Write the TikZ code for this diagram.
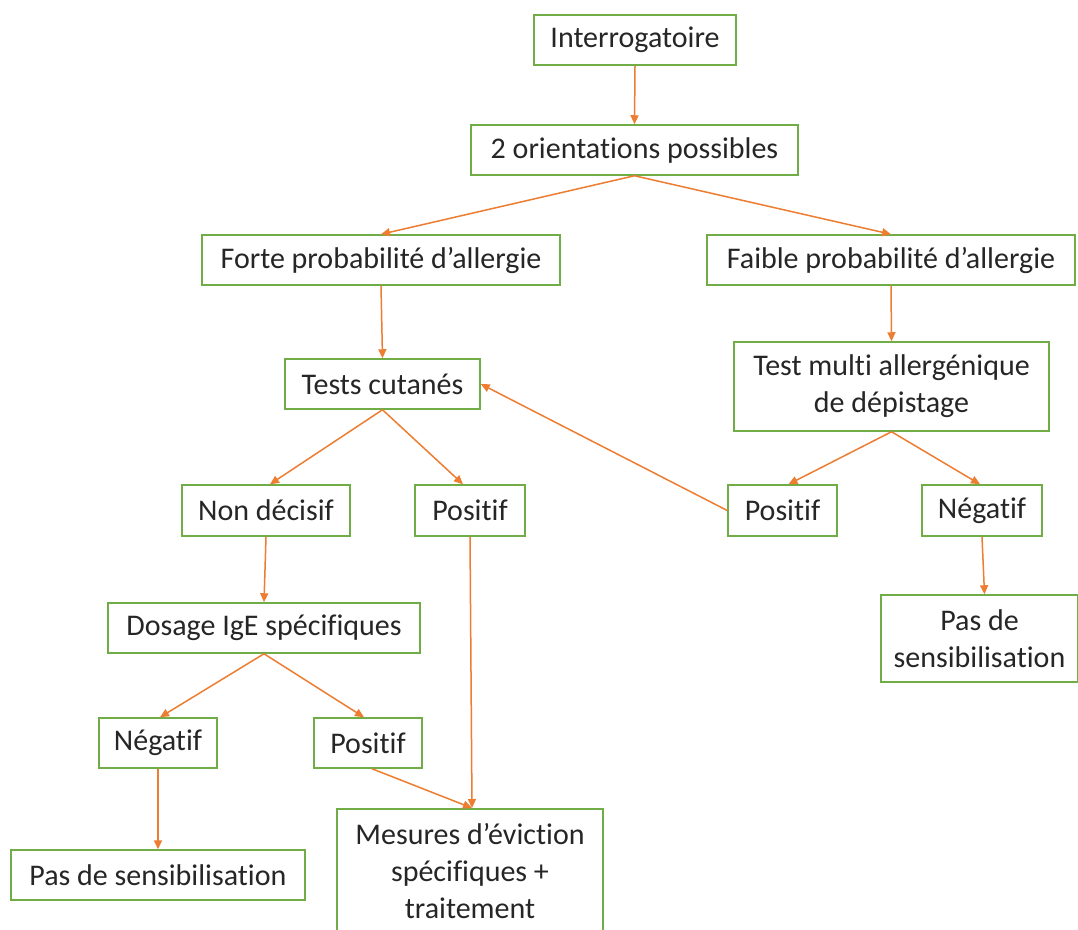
\documentclass[tikz,border=0pt]{standalone}
\usepackage{fontspec}
\setmainfont{Carlito}[RawFeature={-liga;-clig;-calt;-dlig}]
\usetikzlibrary{arrows.meta}
\definecolor{boxgreen}{HTML}{70AD47}
\definecolor{arrorange}{HTML}{ED7D31}
\tikzset{
  box/.style={draw=boxgreen, line width=1.5pt, fill=white, inner sep=0pt, align=center,
    font=\fontsize{30}{37}\selectfont, text=black!85},
  link/.style={draw=arrorange, line width=1.5pt, -{Triangle[length=9pt,width=8pt]}},
}
\begin{document}
\begin{tikzpicture}[x=1pt,y=-1pt]
\useasboundingbox[fill=white] (0,0) rectangle (1078,929);
\node[box, minimum width=202pt, minimum height=50pt] (int) at (635,40) {Interrogatoire};
\node[box, minimum width=327pt, minimum height=50pt] (ori) at (634.5,150) {2 orientations possibles};
\node[box, minimum width=358pt, minimum height=50pt] (forte) at (381,260) {Forte probabilité d’allergie};
\node[box, minimum width=368pt, minimum height=50pt] (faible) at (891,260) {Faible probabilité d’allergie};
\node[box, minimum width=195pt, minimum height=50pt] (tests) at (382.5,384) {Tests cutanés};
\node[box, minimum width=315pt, minimum height=89pt] (multi) at (891.5,386.5) {Test multi allergénique\\de dépistage};
\node[box, minimum width=168pt, minimum height=51pt] (nond) at (266,510.5) {Non décisif};
\node[box, minimum width=110pt, minimum height=51pt] (posm) at (470,510.5) {Positif};
\node[box, minimum width=109pt, minimum height=51pt] (posr) at (782.5,510.5) {Positif};
\node[box, minimum width=120pt, minimum height=51pt] (negr) at (982,510.5) {Négatif};
\node[box, minimum width=197pt, minimum height=87pt] (pasr) at (979.5,638.5) {Pas de\\sensibilisation};
\node[box, minimum width=312pt, minimum height=50pt] (dos) at (264,628) {Dosage IgE spécifiques};
\node[box, minimum width=118pt, minimum height=50pt] (negl) at (158,743) {Négatif};
\node[box, minimum width=108pt, minimum height=50pt] (posl) at (368,743) {Positif};
\node[box, minimum width=294pt, minimum height=50pt] (pasl) at (158,875) {Pas de sensibilisation};
\node[box, minimum width=266pt, minimum height=124pt, anchor=north] (mes) at (470,808) {Mesures d’éviction\\spécifiques +\\traitement};
\draw[link] (int.south) -- (ori.north);
\draw[link] (ori.south) -- (forte.north);
\draw[link] (ori.south) -- (faible.north);
\draw[link] (forte.south) -- (tests.north);
\draw[link] (faible.south) -- (multi.north);
\draw[link] (tests.south) -- ([xshift=4pt]nond.north);
\draw[link] (tests.south) -- ([xshift=-7pt]posm.north);
\draw[link] (multi.south) -- ([xshift=6pt]posr.north);
\draw[link] (multi.south) -- ([xshift=-2pt]negr.north);
\draw[link] (posr.west) -- (tests.east);
\draw[link] (nond.south) -- (dos.north);
\draw[link] (posm.south) -- ([xshift=2pt]mes.north);
\draw[link] (negr.south) -- ([xshift=5pt]pasr.north);
\draw[link] (dos.south) -- ([xshift=2pt]negl.north);
\draw[link] (dos.south) -- ([xshift=-4pt]posl.north);
\draw[link] (negl.south) -- (pasl.north);
\draw[link] ([xshift=4pt]posl.south) -- ([xshift=2pt]mes.north);
\end{tikzpicture}
\end{document}
